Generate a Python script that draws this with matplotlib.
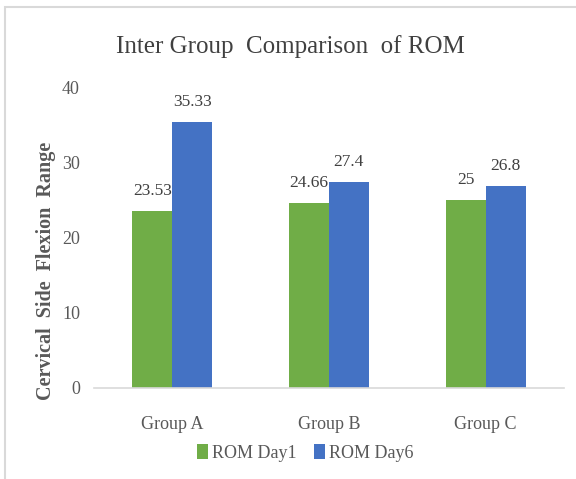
import numpy as np
import matplotlib.pyplot as plt
from matplotlib.patches import Rectangle

groups = ['Group A', 'Group B', 'Group C']
day1 = [23.53, 24.66, 25]
day6 = [35.33, 27.4, 26.8]
day1_labels = ['23.53', '24.66', '25']
day6_labels = ['35.33', '27.4', '26.8']

plt.rcParams['font.family'] = ['Liberation Serif', 'DejaVu Serif']

fig = plt.figure(figsize=(5.76, 4.79), dpi=100)
ax = fig.add_axes([0.163, 0.19, 0.816, 0.628])

x = np.arange(len(groups))
w = 0.255
b1 = ax.bar(x - w / 2, day1, width=w, color='#70AD47', label='ROM Day1')
b2 = ax.bar(x + w / 2, day6, width=w, color='#4472C4', label='ROM Day6')

# value labels above the bars
for bars, labs in [(b1, day1_labels), (b2, day6_labels)]:
    for bar, lab in zip(bars, labs):
        ax.text(bar.get_x() + bar.get_width() / 2, bar.get_height() + 1.6, lab,
                ha='center', va='bottom', fontsize=12.5, color='#404040')

ax.set_xlim(-0.5, 2.5)
ax.set_ylim(0, 40)
ax.set_yticks([0, 10, 20, 30, 40])
ax.set_xticks(x)
ax.set_xticklabels(groups)
ax.tick_params(axis='both', length=0, labelsize=13, labelcolor='#595959')
ax.tick_params(axis='y', pad=10)
ax.tick_params(axis='x', pad=20)
for s in ['top', 'right', 'left']:
    ax.spines[s].set_visible(False)
ax.spines['bottom'].set_color('#D9D9D9')
ax.spines['bottom'].set_linewidth(1.2)

fig.text(0.08, 0.434, 'Cervical  Side  Flexion  Range', rotation=90,
         ha='center', va='center', fontsize=14.5, fontweight='bold', color='#595959')

fig.text(0.505, 0.903, 'Inter Group  Comparison  of ROM', ha='center', va='center',
         fontsize=18, color='#404040')

fig.legend(loc='center', bbox_to_anchor=(0.53, 0.055), ncol=2, frameon=False,
           fontsize=13, handlelength=0.6, handleheight=0.9, handletextpad=0.2,
           columnspacing=1.0, labelcolor='#595959')

fig.patches.append(Rectangle((0.009, -0.01), 1.1, 0.995, transform=fig.transFigure,
                             fill=False, edgecolor='#D9D9D9', linewidth=1.5))

fig.savefig('out.png', dpi=100)
